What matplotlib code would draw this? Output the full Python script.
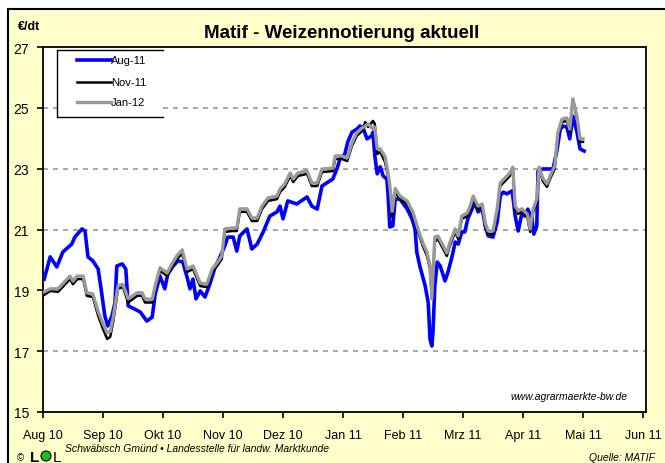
import matplotlib.pyplot as plt
from matplotlib.patches import Rectangle, Ellipse

plt.rcParams["font.family"] = ["Liberation Sans", "DejaVu Sans"]

# x positions are in months after 1 Aug 2010 (0 = Aug 10, 10 = Jun 11)
month_labels = ["Aug 10", "Sep 10", "Okt 10", "Nov 10", "Dez 10", "Jan 11",
                "Feb 11", "Mrz 11", "Apr 11", "Mai 11", "Jun 11"]
y_ticks = [15, 17, 19, 21, 23, 25, 27]
y_grid = [17, 21, 23, 25]
series_names = ["Aug-11", "Nov-11", "Jan-12"]

aug11_x = [0.02, 0.12, 0.23, 0.33, 0.48, 0.53, 0.65, 0.70, 0.75, 0.83, 0.92, 0.98,
           1.03, 1.08, 1.15, 1.20, 1.23, 1.32, 1.38, 1.42, 1.62, 1.73, 1.82, 1.87,
           1.95, 2.03, 2.08, 2.17, 2.25, 2.33, 2.40, 2.45, 2.50, 2.55, 2.62, 2.70,
           2.78, 2.87, 2.95, 3.03, 3.08, 3.17, 3.23, 3.28, 3.40, 3.48, 3.57, 3.67,
           3.78, 3.90, 3.95, 4.00, 4.08, 4.23, 4.40, 4.48, 4.57, 4.65, 4.83, 4.90,
           4.95, 5.03, 5.08, 5.15, 5.23, 5.28, 5.33, 5.40, 5.48, 5.50, 5.53, 5.57,
           5.62, 5.67, 5.73, 5.75, 5.78, 5.83, 5.87, 5.95, 6.07, 6.15, 6.20, 6.23,
           6.28, 6.37, 6.42, 6.45, 6.48, 6.50, 6.53, 6.57, 6.62, 6.70, 6.75, 6.82,
           6.87, 6.92, 6.98, 7.03, 7.08, 7.15, 7.20, 7.25, 7.32, 7.37, 7.42, 7.50,
           7.57, 7.62, 7.67, 7.73, 7.82, 7.83, 7.87, 7.92, 7.98, 8.03, 8.08, 8.15,
           8.18, 8.23, 8.25, 8.33, 8.45, 8.50, 8.57, 8.62, 8.67, 8.73, 8.78, 8.83,
           8.90, 8.95, 9.02]
aug11 = [19.37, 20.10, 19.77, 20.26, 20.52, 20.75, 21.02, 20.95, 20.10, 19.97, 19.70, 18.88,
         18.16, 17.83, 18.16, 18.60, 19.80, 19.87, 19.70, 18.49, 18.29, 17.99, 18.12, 18.88,
         19.47, 19.05, 19.54, 19.80, 19.97, 19.93, 19.44, 19.05, 19.37, 18.72, 18.98, 18.78,
         19.20, 19.77, 20.10, 20.46, 20.75, 20.75, 20.29, 20.79, 21.02, 20.36, 20.52, 20.92,
         21.44, 21.58, 21.77, 21.35, 21.94, 21.84, 22.07, 21.77, 21.67, 22.43, 22.66, 23.00,
         23.32, 23.48, 23.88, 24.20, 24.30, 24.40, 24.37, 23.98, 24.08, 24.20, 23.42, 22.83,
         23.06, 22.76, 22.66, 22.17, 21.08, 21.12, 22.00, 22.00, 21.67, 21.35, 21.02, 20.26,
         19.80, 19.14, 18.60, 17.40, 17.17, 17.63, 19.14, 19.93, 19.80, 19.31, 19.60, 20.13,
         20.59, 20.52, 20.92, 20.92, 21.35, 21.67, 21.90, 21.58, 21.67, 21.12, 20.79, 20.75,
         21.25, 22.10, 22.23, 22.17, 22.27, 22.10, 21.44, 20.95, 21.51, 21.44, 21.67, 21.35,
         20.85, 21.12, 22.92, 22.99, 22.99, 22.99, 23.65, 24.30, 24.40, 24.37, 23.98, 24.73,
         24.20, 23.65, 23.58]

late_x = [0.02, 0.12, 0.25, 0.37, 0.45, 0.50, 0.57, 0.67, 0.73, 0.83, 0.92, 1.00,
          1.07, 1.12, 1.17, 1.25, 1.33, 1.42, 1.57, 1.65, 1.70, 1.82, 1.87, 1.95,
          2.07, 2.15, 2.23, 2.32, 2.40, 2.50, 2.62, 2.73, 2.82, 2.90, 2.98, 3.03,
          3.15, 3.23, 3.28, 3.40, 3.48, 3.57, 3.65, 3.75, 3.90, 3.95, 4.03, 4.12,
          4.17, 4.25, 4.40, 4.48, 4.57, 4.65, 4.83, 4.87, 4.98, 5.07, 5.15, 5.23,
          5.32, 5.37, 5.42, 5.50, 5.53, 5.57, 5.62, 5.70, 5.75, 5.78, 5.82, 5.87,
          5.95, 6.07, 6.17, 6.25, 6.33, 6.40, 6.45, 6.48, 6.53, 6.58, 6.67, 6.73,
          6.78, 6.87, 6.92, 6.98, 7.07, 7.12, 7.17, 7.25, 7.32, 7.37, 7.42, 7.50,
          7.57, 7.62, 7.70, 7.78, 7.83, 7.87, 7.92, 7.98, 8.07, 8.12, 8.17, 8.23,
          8.27, 8.33, 8.40, 8.45, 8.53, 8.58, 8.65, 8.73, 8.78, 8.83, 8.90, 8.95,
          9.00]
nov11 = [18.85, 18.98, 18.95, 19.20, 19.37, 19.20, 19.37, 19.37, 18.82, 18.78, 18.16, 17.73,
         17.40, 17.47, 17.96, 19.05, 19.11, 18.60, 18.82, 18.82, 18.60, 18.60, 19.05, 19.64,
         19.47, 19.77, 20.03, 20.20, 19.60, 19.70, 19.14, 19.11, 19.60, 19.80, 20.03, 20.92,
         20.95, 20.95, 21.58, 21.58, 21.28, 21.28, 21.67, 21.94, 22.00, 22.23, 22.40, 22.76,
         22.56, 22.76, 22.83, 22.43, 22.43, 22.89, 22.92, 23.32, 23.32, 23.25, 23.75, 24.08,
         24.24, 24.53, 24.37, 24.57, 24.47, 23.48, 23.55, 23.22, 22.76, 22.33, 21.41, 22.23,
         22.00, 21.84, 21.44, 20.92, 20.46, 20.13, 19.70, 18.82, 20.59, 20.69, 20.36, 20.13,
         20.46, 20.92, 20.69, 21.35, 21.44, 21.67, 22.00, 21.67, 21.74, 21.12, 20.85, 20.85,
         21.58, 22.43, 22.59, 22.76, 23.05, 21.67, 21.51, 21.58, 21.41, 20.92, 21.58, 21.90,
         22.99, 22.59, 22.40, 22.66, 22.99, 24.08, 24.53, 24.57, 24.20, 25.29, 24.63, 23.88,
         23.88]
jan12 = [18.95, 19.05, 19.05, 19.30, 19.47, 19.30, 19.47, 19.47, 18.92, 18.88, 18.30, 17.90,
         17.60, 17.65, 18.10, 19.15, 19.20, 18.72, 18.92, 18.92, 18.72, 18.70, 19.15, 19.74,
         19.57, 19.87, 20.13, 20.33, 19.70, 19.80, 19.24, 19.20, 19.70, 19.90, 20.13, 21.02,
         21.05, 21.05, 21.68, 21.68, 21.38, 21.38, 21.77, 22.04, 22.10, 22.33, 22.50, 22.86,
         22.66, 22.86, 22.93, 22.53, 22.53, 22.99, 23.02, 23.42, 23.42, 23.35, 23.85, 24.18,
         24.34, 24.40, 24.47, 24.30, 24.37, 23.65, 23.65, 23.40, 22.86, 22.45, 21.60, 22.35,
         22.10, 21.94, 21.54, 21.02, 20.56, 20.25, 19.80, 18.72, 20.75, 20.79, 20.46, 20.23,
         20.56, 21.02, 20.79, 21.45, 21.54, 21.77, 22.10, 21.77, 21.84, 21.22, 20.95, 20.95,
         21.68, 22.53, 22.69, 22.86, 23.05, 21.77, 21.61, 21.68, 21.51, 21.02, 21.68, 22.00,
         23.05, 22.69, 22.50, 22.76, 23.09, 24.18, 24.63, 24.67, 24.30, 25.29, 24.73, 23.98,
         23.98]

colors = ["#0000FF", "black", "#999999"]
widths = [2.6, 1.8, 2.4]

fig = plt.figure(figsize=(6.65, 4.64), dpi=100)
fig.patch.set_facecolor("white")
fig.patches.append(Rectangle((8 / 665, -0.01), 1.0, 1 - 10 / 464 + 0.01, transform=fig.transFigure,
                             facecolor="#FFFFCC", edgecolor="black", linewidth=1.5, zorder=-5))

ax = fig.add_axes([43 / 665, 1 - 413 / 464, 603 / 665, 365 / 464])
ax.set_zorder(2)
ax.set_facecolor("white")

for level in y_grid:
    ax.axhline(level, color="#999999", linewidth=1.2, linestyle=(0, (3, 3)), zorder=1)

ax.plot(aug11_x, aug11, color=colors[0], linewidth=widths[0], zorder=3)
ax.plot(late_x, nov11, color=colors[1], linewidth=widths[1], zorder=4)
ax.plot(late_x, jan12, color=colors[2], linewidth=widths[2], zorder=5)

ax.set_xlim(0, 10.05)
ax.set_ylim(15, 27)
ax.set_xticks(range(len(month_labels)))
ax.set_xticklabels(month_labels, fontsize=9)
ax.set_yticks(y_ticks)
ax.set_yticklabels([str(v) for v in y_ticks], fontsize=10)
ax.tick_params(axis="both", direction="out", length=4, width=1.2, color="black")
ax.tick_params(axis="x", pad=8)
ax.tick_params(axis="y", pad=6)
for spine in ax.spines.values():
    spine.set_linewidth(1.3)

# legend box, open on its right side like the original
lx0, lx1, ly0, ly1 = 0.0232, 0.199, 0.8082, 0.9918
ax.add_patch(Rectangle((lx0, ly0), lx1 - lx0, ly1 - ly0, transform=ax.transAxes,
                       facecolor="white", edgecolor="none", zorder=6))
ax.plot([lx1, lx0, lx0, lx1], [ly1, ly1, ly0, ly0], transform=ax.transAxes,
        color="black", linewidth=1.0, zorder=7, clip_on=False)
for name, color, lw, row_y in zip(series_names, colors, widths, [0.9644, 0.9041, 0.8493]):
    ax.plot([0.0564, 0.1128], [row_y, row_y], transform=ax.transAxes, color=color,
            linewidth=lw, zorder=7)
    ax.text(0.1128, row_y, name, transform=ax.transAxes, ha="left", va="center",
            fontsize=8, zorder=7)

fig.text(342 / 665, 1 - 33 / 464, "Matif - Weizennotierung aktuell", ha="center", va="center",
         fontsize=13.5, fontweight="bold")
fig.text(18 / 665, 1 - 27 / 464, "€/dt", ha="left", va="center", fontsize=9, fontweight="bold")

ax.text(0.97, 0.045, "www.agrarmaerkte-bw.de", transform=ax.transAxes, ha="right", va="center",
        fontsize=7.5, style="italic", zorder=6)
fig.text(65 / 665, 1 - 449 / 464, "Schwäbisch Gmünd • Landesstelle für landw. Marktkunde",
         ha="left", va="center", fontsize=7.5, style="italic")
fig.text(655 / 665, 1 - 458 / 464, "Quelle: MATIF", ha="right", va="center",
         fontsize=7.5, style="italic")

# LEL logo
fig.text(17 / 665, 1 - 458 / 464, "©", ha="left", va="center", fontsize=7)
fig.text(30 / 665, 1 - 458 / 464, "L", ha="left", va="center", fontsize=11, fontweight="bold")
fig.patches.append(Ellipse((46 / 665, 1 - 457 / 464), 10 / 665, 10 / 464, transform=fig.transFigure,
                           facecolor="#22BB22", edgecolor="black", linewidth=0.8, zorder=2))
fig.text(53 / 665, 1 - 458 / 464, "L", ha="left", va="center", fontsize=11)

fig.savefig("out.png", dpi=100)
